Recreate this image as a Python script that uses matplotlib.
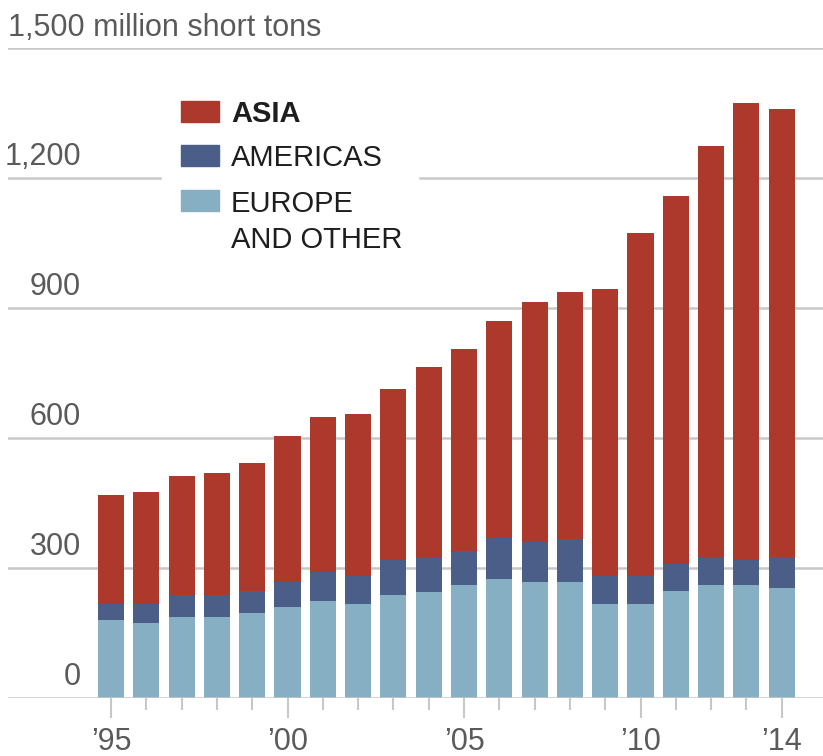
import matplotlib
matplotlib.use("Agg")
import matplotlib.pyplot as plt
from matplotlib.patches import Rectangle

# coal consumption by region, million short tons
years = list(range(1995, 2015))
europe = [181, 174, 188, 188, 196, 210, 224, 218, 238, 245,
          260, 274, 267, 267, 217, 217, 246, 260, 260, 253]
americas = [36, 43, 50, 50, 50, 58, 66, 63, 80, 80,
            80, 95, 93, 100, 65, 65, 64, 65, 58, 72]
asia = [251, 259, 274, 281, 296, 337, 358, 375, 395, 439,
        465, 501, 554, 569, 661, 790, 848, 948, 1056, 1035]

y_ticks = [0, 300, 600, 900, 1200, 1500]
y_labels = ['0', '300', '600', '900', '1,200', '1,500 million short tons']
major_years = [1995, 2000, 2005, 2010, 2014]
major_labels = ['\u201995', '\u201900', '\u201905', '\u201910', '\u201914']

legend_names = ['ASIA', 'AMERICAS', 'EUROPE\nAND OTHER']

c_asia = '#ad392d'
c_amer = '#4a5e87'
c_eur = '#87afc4'
c_grid = '#c8c8c8'
c_label = '#5a5a5a'

plt.rcParams['font.family'] = ['Liberation Sans', 'DejaVu Sans']

W, H = 823, 756
fig = plt.figure(figsize=(W / 100, H / 100), dpi=100)

# axes: x from pixel 8 to 823, y=0 at pixel 698, y=1500 at pixel 48
y0_px, y1500_px = 698, 48
ax = fig.add_axes([8 / W, (H - y0_px) / H, (W - 8) / W, (y0_px - y1500_px) / H])
ax.set_ylim(0, 1500)
ax.set_xlim(1992.08, 2015.17)
for s in ax.spines.values():
    s.set_visible(False)

# gridlines (1,200 line broken where the legend sits)
for t in y_ticks:
    if t == 1200:
        ax.axhline(t, xmin=0, xmax=(160 - 8) / (W - 8), color=c_grid, lw=1.8, zorder=0)
        ax.axhline(t, xmin=(420 - 8) / (W - 8), xmax=1, color=c_grid, lw=1.8, zorder=0)
    else:
        ax.axhline(t, color=c_grid, lw=1.8, zorder=0 if t else 3)

bottom2 = [e + a for e, a in zip(europe, americas)]
ax.bar(years, europe, width=0.74, color=c_eur, zorder=2)
ax.bar(years, americas, bottom=europe, width=0.74, color=c_amer, zorder=2)
ax.bar(years, asia, bottom=bottom2, width=0.74, color=c_asia, zorder=2)

# y labels sit above their gridlines
ax.set_yticks([])
for t, lab in zip(y_ticks, y_labels):
    if t == 1500:
        ax.text(0, t + 28, lab, transform=ax.get_yaxis_transform(), ha='left',
                va='baseline', fontsize=22, color=c_label)
    else:
        ax.text((81 - 8) / (W - 8), t + 30, lab, transform=ax.get_yaxis_transform(),
                ha='right', va='baseline', fontsize=22, color=c_label)

ax.set_xticks(major_years)
ax.set_xticklabels(major_labels)
ax.set_xticks([y for y in years if y not in major_years], minor=True)
ax.tick_params(axis='x', which='major', length=14.5, width=1.5, color=c_grid,
               labelsize=22, labelcolor=c_label, pad=6.5)
ax.tick_params(axis='x', which='minor', length=8.5, width=1.5, color=c_grid)
for lab in ax.get_xticklabels():
    lab.set_fontfamily(['Liberation Sans Narrow', 'Liberation Sans'])


# legend drawn by hand, positions in pixels from the top-left
def fx(px):
    return px / W


def fy(px):
    return 1 - px / H


colors = [c_asia, c_amer, c_eur]
rows = [101, 145, 190]
for name, col, top in zip(legend_names, colors, rows):
    fig.patches.append(Rectangle((fx(181), fy(top + 21)), 38 / W, 21 / H,
                                 transform=fig.transFigure, color=col))
    for i, line in enumerate(name.split('\n')):
        fig.text(fx(231), fy(top + 10.5 + 37 * i), line, ha='left', va='center_baseline',
                 fontsize=21, color='#1e1e1e',
                 fontweight='bold' if name == 'ASIA' else 'normal')

fig.savefig('out.png', dpi=100)
